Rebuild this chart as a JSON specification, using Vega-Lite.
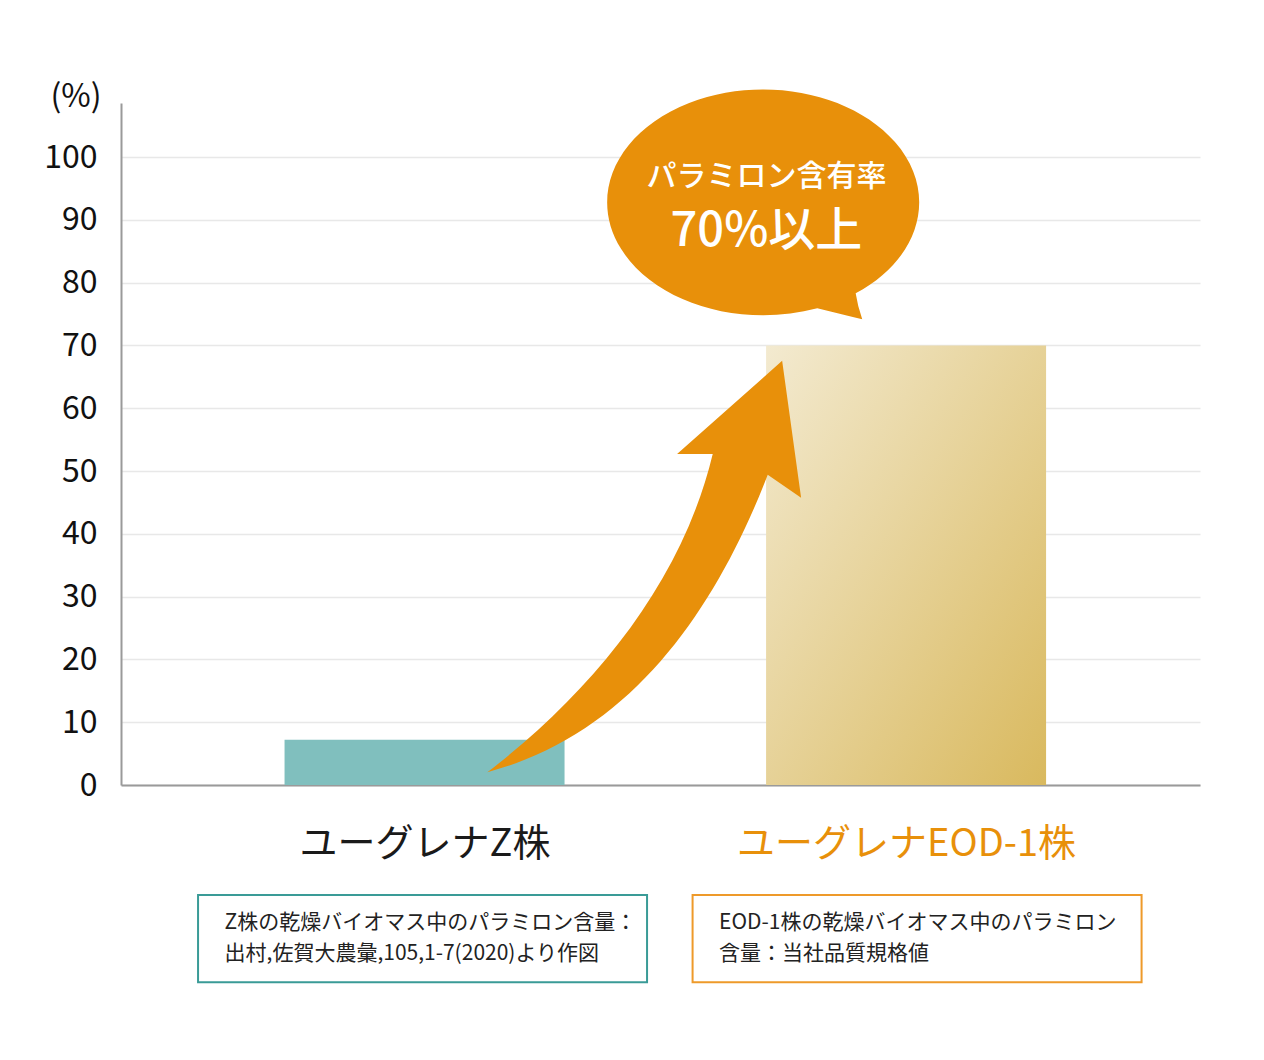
{
  "$schema": "https://vega.github.io/schema/vega-lite/v6.json",
  "description": "Paramylon content of Euglena Z strain vs EOD-1 strain",
  "width": 1079,
  "height": 682,
  "autosize": {"type": "none"},
  "padding": {"left": 121, "top": 103, "right": 64, "bottom": 275},
  "background": "#ffffff",
  "config": {"view": {"stroke": null}, "font": "Noto Sans CJK JP"},
  "datasets": {
    "strains": [
      {"strain": "ユーグレナZ株", "pos": 1, "paramylon": 7.2, "note": "Z株の乾燥バイオマス中のパラミロン含量：\n出村,佐賀大農彙,105,1-7(2020)より作図"},
      {"strain": "ユーグレナEOD-1株", "pos": 2, "paramylon": 70, "note": "EOD-1株の乾燥バイオマス中のパラミロン\n含量：当社品質規格値"}
    ],
    "callout": [
      {"line1": "パラミロン含有率", "line2": "70%以上"}
    ]
  },
  "data": {"name": "strains"},
  "layer": [
    {
      "transform": [{"filter": "datum.pos == 1"}],
      "mark": {"type": "bar", "orient": "vertical", "width": 280, "color": "#80bfbe"},
      "encoding": {
        "x": {
          "field": "pos",
          "type": "quantitative",
          "title": null,
          "scale": {"domain": [0.38, 2.6], "nice": false, "zero": false},
          "axis": {
            "title": null,
            "values": [1, 2],
            "labelExpr": "datum.value == 1 ? 'ユーグレナZ株' : 'ユーグレナEOD-1株'",
            "labelFontSize": 38,
            "labelFontWeight": "normal",
            "labelLimit": 600,
            "labelColor": {"condition": {"test": "datum.value == 2", "value": "#e8900a"}, "value": "#1a1a1a"},
            "labelPadding": 40,
            "labelFlush": false,
            "labelOverlap": false,
            "labelBound": false,
            "ticks": false,
            "grid": false,
            "domainColor": "#9a9a9a",
            "domainWidth": 2
          }
        },
        "y": {
          "field": "paramylon",
          "type": "quantitative",
          "title": "(%)",
          "scale": {"domain": [0, 108.6], "nice": false},
          "axis": {
            "title": "(%)",
            "titleAngle": 0,
            "titleAlign": "right",
            "titleBaseline": "middle",
            "titleX": -20,
            "titleY": -7,
            "titleFontSize": 32,
            "titleFontWeight": "normal",
            "titleColor": "#111111",
            "values": [0, 10, 20, 30, 40, 50, 60, 70, 80, 90, 100],
            "labelFontSize": 32,
            "labelColor": "#111111",
            "labelPadding": 24,
            "ticks": false,
            "grid": true,
            "gridColor": "#e8e8e8",
            "gridWidth": 1.5,
            "domainColor": "#9a9a9a",
            "domainWidth": 2
          }
        }
      }
    },
    {
      "transform": [{"filter": "datum.pos == 2"}],
      "mark": {
        "type": "bar",
        "orient": "vertical",
        "width": 280,
        "color": {
          "gradient": "linear",
          "x1": 0, "y1": 0, "x2": 1, "y2": 1,
          "stops": [
            {"offset": 0, "color": "#f3ead0"},
            {"offset": 1, "color": "#d9b95e"}
          ]
        }
      },
      "encoding": {
        "x": {"field": "pos", "type": "quantitative", "title": null},
        "y": {"field": "paramylon", "type": "quantitative", "title": "(%)"}
      }
    },
    {
      "data": {"values": [{}]},
      "mark": {
        "type": "point",
        "shape": "M 0.67 -0.998 L 0.762 -0.333 L 0.6 -0.445 C 0.356 0.186 -0.049 0.81 -0.761 0.999 C -0.255 0.61 0.183 0.082 0.333 -0.546 L 0.16 -0.546 Z",
        "size": 169744,
        "filled": true,
        "color": "#e8900a",
        "opacity": 1,
        "strokeWidth": 0
      },
      "encoding": {
        "x": {"datum": 1.456, "type": "quantitative", "title": null},
        "y": {"datum": 34.8, "type": "quantitative", "title": "(%)"}
      }
    },
    {
      "data": {"values": [{}]},
      "mark": {
        "type": "point",
        "shape": "M 0.572 0.596 A 1 0.724 0 1 0 0.326 0.692 Q 0.5 0.735 0.614 0.763 Q 0.585 0.68 0.572 0.596 Z",
        "size": 97344,
        "filled": true,
        "color": "#e8900a",
        "opacity": 1,
        "strokeWidth": 0
      },
      "encoding": {
        "x": {"datum": 1.71, "type": "quantitative", "title": null},
        "y": {"datum": 93.1, "type": "quantitative", "title": "(%)"}
      }
    },
    {
      "data": {"name": "callout"},
      "mark": {"type": "text", "color": "#ffffff", "fontSize": 30, "fontWeight": 500, "align": "center", "baseline": "middle"},
      "encoding": {
        "text": {"field": "line1"},
        "x": {"datum": 1.71, "type": "quantitative", "title": null},
        "y": {"datum": 96.8, "type": "quantitative", "title": "(%)"}
      }
    },
    {
      "data": {"name": "callout"},
      "mark": {"type": "text", "color": "#ffffff", "fontSize": 47, "fontWeight": 500, "align": "center", "baseline": "middle"},
      "encoding": {
        "text": {"field": "line2"},
        "x": {"datum": 1.71, "type": "quantitative", "title": null},
        "y": {"datum": 88.0, "type": "quantitative", "title": "(%)"}
      }
    },
    {
      "mark": {"type": "bar", "orient": "vertical", "width": 449, "fill": "#ffffff", "strokeWidth": 2, "xOffset": {"expr": "datum.pos == 2 ? 11 : -2"}},
      "encoding": {
        "x": {"field": "pos", "type": "quantitative", "title": null},
        "y": {"datum": -17.5, "type": "quantitative", "title": "(%)"},
        "y2": {"datum": -31.4},
        "stroke": {
          "field": "strain",
          "type": "nominal",
          "scale": {"domain": ["ユーグレナZ株", "ユーグレナEOD-1株"], "range": ["#3a9b97", "#ee9a2a"]},
          "legend": null
        }
      }
    },
    {
      "mark": {"type": "text", "align": "left", "baseline": "middle", "dx": -198, "fontSize": 21, "lineHeight": 31, "lineBreak": "\n", "color": "#222222", "xOffset": {"expr": "datum.pos == 2 ? 11 : -2"}},
      "encoding": {
        "text": {"field": "note"},
        "x": {"field": "pos", "type": "quantitative", "title": null},
        "y": {"datum": -22.0, "type": "quantitative", "title": "(%)"}
      }
    }
  ]
}
